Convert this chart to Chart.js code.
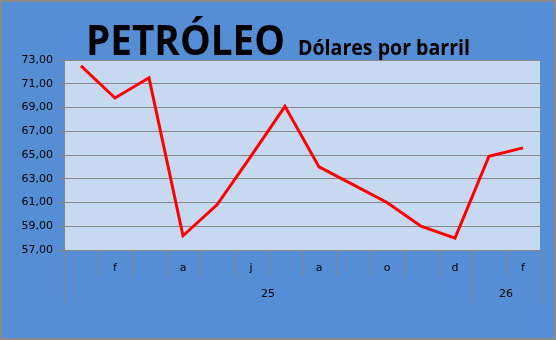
<!DOCTYPE html>
<html>
<head>
<meta charset="utf-8">
<script src="https://cdn.jsdelivr.net/npm/chart.js@4/dist/chart.umd.min.js"></script>
<style>
  html, body { margin: 0; padding: 0; background: #558ED5; }
  canvas { display: block; }
</style>
</head>
<body>
<canvas id="container" width="556" height="340"></canvas>
<script>
// months Jan-25 .. Feb-26
const months = ['e', 'f', 'm', 'a', 'm', 'j', 'j', 'a', 's', 'o', 'n', 'd', 'e', 'f']
const prices = [72.5, 69.8, 71.5, 58.2, 60.8, 64.9, 69.1, 64.0, 62.5, 61.0, 59.0, 58.0, 64.9, 65.6]
const years = ['25', '26']
const yearSpan = [12, 2]   // months per year group
const titleMain = 'PETRÓLEO'
const titleSub = 'Dólares por barril'

const gray = '#878787'

const frame = {
    id: 'frame',
    beforeDraw(chart) {
        const ctx = chart.ctx
        const a = chart.chartArea
        ctx.save()
        ctx.fillStyle = '#558ED5'
        ctx.fillRect(0, 0, chart.width, chart.height)
        ctx.fillStyle = '#C6D9F1'
        ctx.fillRect(a.left, a.top, a.right - a.left, a.bottom - a.top)
        ctx.strokeStyle = '#8a8a8a'
        ctx.lineWidth = 2
        ctx.strokeRect(1, 1, chart.width - 2, chart.height - 2)
        ctx.restore()
    },
    afterDraw(chart) {
        const ctx = chart.ctx
        const x = chart.scales.x
        const a = chart.chartArea
        const half = (x.getPixelForValue(1) - x.getPixelForValue(0)) / 2
        ctx.save()
        // year groups
        ctx.strokeStyle = gray
        ctx.lineWidth = 1
        ctx.fillStyle = '#000'
        ctx.font = '11px "DejaVu Sans"'
        ctx.textAlign = 'center'
        ctx.textBaseline = 'middle'
        let start = 0
        const edges = [x.getPixelForValue(0) - half]
        years.forEach((y, i) => {
            const end = start + yearSpan[i] - 1
            const x0 = x.getPixelForValue(start) - half
            const x1 = x.getPixelForValue(end) + half
            edges.push(x1)
            ctx.fillText(y, (x0 + x1) / 2, a.bottom + 44)
            start = end + 1
        })
        edges.forEach(e => {
            const px = Math.round(e) + 0.5
            ctx.beginPath()
            ctx.moveTo(px, a.bottom)
            ctx.lineTo(px, a.bottom + 53)
            ctx.stroke()
        })
        // title
        ctx.textAlign = 'left'
        ctx.textBaseline = 'alphabetic'
        ctx.font = 'bold 42px "Open Sans"'
        let w = ctx.measureText(titleMain).width
        ctx.save()
        ctx.translate(86, 55)
        ctx.scale(199 / w, 1)
        ctx.fillText(titleMain, 0, 0)
        ctx.restore()
        ctx.font = 'bold 21px "Open Sans"'
        w = ctx.measureText(titleSub).width
        ctx.save()
        ctx.translate(298, 55)
        ctx.scale(172 / w, 1)
        ctx.fillText(titleSub, 0, 0)
        ctx.restore()
        ctx.restore()
    }
}

new Chart(document.getElementById('container'), {
    type: 'line',
    data: {
        labels: months,
        datasets: [{
            label: 'Petróleo',
            data: prices,
            fill: false,
            borderColor: '#FF0000',
            borderWidth: 3,
            tension: 0,
            pointRadius: 0
        }]
    },
    options: {
        responsive: false,
        animation: false,
        layout: { padding: { top: 60, right: 16, left: 0, bottom: 0 } },
        plugins: {
            legend: { display: false },
            title: { display: false },
            tooltip: { enabled: false }
        },
        scales: {
            x: {
                offset: true,
                afterFit(scale) { scale.height = 90 },
                grid: {
                    offset: true,
                    drawOnChartArea: false,
                    tickLength: 27,
                    color: gray
                },
                border: { color: gray },
                ticks: {
                    autoSkip: false,
                    maxRotation: 0,
                    padding: -15,
                    color: '#000',
                    font: { family: 'DejaVu Sans', size: 11 },
                    callback: (v, i) => (i % 2 === 1 ? months[i] : '')
                }
            },
            y: {
                min: 57,
                max: 73,
                afterFit(scale) { scale.width = 64 },
                grid: { color: gray, tickLength: 6 },
                border: { color: gray },
                ticks: {
                    stepSize: 2,
                    padding: 5,
                    color: '#000',
                    font: { family: 'DejaVu Sans', size: 11 },
                    callback: v => v.toFixed(2).replace('.', ',')
                }
            }
        }
    },
    plugins: [frame]
})
</script>
</body>
</html>
